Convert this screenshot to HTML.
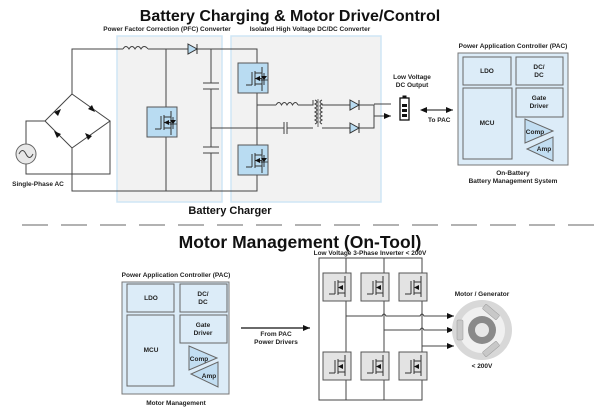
<!DOCTYPE html>
<html><head><meta charset="utf-8"><style>
html,body{margin:0;padding:0;background:#fff;}
svg{display:block;font-family:"Liberation Sans",Arial,sans-serif;}
</style></head><body>
<svg width="600" height="414" viewBox="0 0 600 414" xmlns="http://www.w3.org/2000/svg">
<defs>
<marker id="ar" markerWidth="8" markerHeight="8" refX="7" refY="4" orient="auto" markerUnits="userSpaceOnUse"><path d="M0,1 L7,4 L0,7 Z" fill="#111"/></marker>
<marker id="al" markerWidth="8" markerHeight="8" refX="1" refY="4" orient="auto" markerUnits="userSpaceOnUse"><path d="M7,1 L0,4 L7,7 Z" fill="#111"/></marker>
<g id="fet">
<rect x="0" y="0" width="30" height="30" fill="#b9dcf2" stroke="#555" stroke-width="1"/>
<path d="M8,22 H14 M14,9 V22 M17,8 V23 M17,10 H24 V25 M17,21 H24 M17,15.5 H24 M24,10 V4 M24,25 V28" stroke="#333" stroke-width="1" fill="none"/>
<path d="M17,15.5 L22,13 L22,18 Z" fill="#111"/>
<path d="M26,17 L23,13 L29,13 Z" fill="#111"/><path d="M22.5,17 H29.5 M26,10 V22" stroke="#111" stroke-width="0.8"/>
</g>
<g id="gfet">
<rect x="0" y="0" width="28" height="28" fill="#e3e3e3" stroke="#555" stroke-width="1"/>
<path d="M6,21 H12 M12,8 V21 M15,7 V22 M15,9 H22 V24 M15,20 H22 M22,9 V3" stroke="#333" stroke-width="1" fill="none"/>
<path d="M15,14.5 L20,12 L20,17 Z" fill="#111"/>
</g>
<g id="diodeR"><path d="M0,-5 L9,0 L0,5 Z" fill="#b9dcf2" stroke="#333"/><path d="M9,-5 V5" stroke="#333"/></g>
</defs>

<text x="290" y="21" text-anchor="middle" font-size="16" font-weight="bold" fill="#111">Battery Charging &amp; Motor Drive/Control</text>

<rect x="117" y="36" width="105" height="166" fill="#f2f2f2" stroke="#cfe6f5" stroke-width="1.5"/>
<rect x="231" y="36" width="150" height="166" fill="#f2f2f2" stroke="#cfe6f5" stroke-width="1.5"/>
<text x="167" y="31" text-anchor="middle" font-size="6.5" font-weight="bold" fill="#222">Power Factor Correction (PFC) Converter</text>
<text x="310" y="31" text-anchor="middle" font-size="6.5" font-weight="bold" fill="#222">Isolated High Voltage DC/DC Converter</text>

<g stroke="#444" stroke-width="1" fill="none">
<path d="M72,94 V49 H123 M148,49 H188 M197,49 H257 V191 H72 V148"/>
<path d="M123,49 q3,-5 6,0 q3,-5 6,0 q3,-5 6,0 q3,-5 7,0"/>
<path d="M166,49 V191 M211,49 V83 M211,89 V147 M211,153 V191"/>
<path d="M203,83 H219 M203,89 H219 M203,147 H219 M203,153 H219"/>
<path d="M211,128 H257"/>
<path d="M72,94 L45,121 L72,148 L110,121 Z"/>
<path d="M45,121 H26 V144 M26,164 V174 H110 V121"/>
<path d="M257,105 H276 M298,105 H313 V100 M257,128 H284 M287,128 H313"/>
<path d="M276,105 q3,-5 5.5,0 q3,-5 5.5,0 q3,-5 5.5,0 q3,-5 5.5,0"/>
<path d="M284,122 V134 M287,122 V134"/>
<path d="M315,100 q4,2 0,4 q4,2 0,4 q4,2 0,4 q4,2 0,4 q4,2 0,4 q4,2 0,4 M322,100 q-4,2 0,4 q-4,2 0,4 q-4,2 0,4 q-4,2 0,4 q-4,2 0,4 q-4,2 0,4"/>
<path d="M322,105 H350 M359,105 H374 V128 H359 M350,128 H322"/>
</g>
<path d="M318,99 V127" stroke="#444" stroke-width="0.8"/>
<circle cx="26" cy="154" r="10" fill="#e8e8e8" stroke="#666"/>
<path d="M19,154 q3.5,-7 7,0 q3.5,7 7,0" stroke="#444" fill="none"/>
<g fill="#111">
<path d="M54,112 l7,-3 l-3,7 Z"/><path d="M86,105 l7,-3 l-3,7 z" transform="rotate(90 89 108)"/>
<path d="M55,130 l7,3 l-3,-7 z" transform="rotate(180 58 132)"/><path d="M86,132 l7,3 l-3,-7 z" transform="rotate(180 89 134)"/>
</g>
<text x="38" y="186" text-anchor="middle" font-size="6.5" font-weight="bold" fill="#222">Single-Phase AC</text>
<use href="#diodeR" x="188" y="49"/>
<use href="#diodeR" x="350" y="105"/>
<use href="#diodeR" x="350" y="128"/>
<use href="#fet" x="147" y="107"/>
<use href="#fet" x="238" y="63"/>
<use href="#fet" x="238" y="145"/>
<path d="M374,104 H391 M374,116 H391" stroke="#444" fill="none" marker-end="url(#ar)"/>
<rect x="400" y="98" width="9" height="22" fill="#fff" stroke="#111" stroke-width="1.3"/>
<rect x="402.5" y="95.5" width="4" height="2.5" fill="#111"/>
<rect x="402" y="104" width="5" height="3" fill="#111"/><rect x="402" y="109" width="5" height="3" fill="#111"/><rect x="402" y="114" width="5" height="3" fill="#111"/>
<text x="412" y="79" text-anchor="middle" font-size="6.5" font-weight="bold" fill="#222">Low Voltage</text>
<text x="412" y="87" text-anchor="middle" font-size="6.5" font-weight="bold" fill="#222">DC  Output</text>
<path d="M421,110 H453" stroke="#111" marker-end="url(#ar)" marker-start="url(#al)"/>
<text x="428" y="122" font-size="6.5" font-weight="bold" fill="#222">To PAC</text>

<text x="513" y="48" text-anchor="middle" font-size="6.5" font-weight="bold" fill="#222">Power Application Controller (PAC)</text>
<rect x="458" y="53" width="110" height="112" fill="#dcecf8" stroke="#777"/>
<g fill="#dcecf8" stroke="#666">
<rect x="463" y="57" width="48" height="28"/><rect x="516" y="57" width="47" height="28"/>
<rect x="463" y="88" width="49" height="71"/><rect x="516" y="88" width="47" height="29"/>
<path d="M525,119 V143 L553,131 Z" fill="#c2def2"/><path d="M553,137 V161 L527,149 Z" fill="#c2def2"/>
</g>
<g font-size="6.5" font-weight="bold" fill="#222" text-anchor="middle">
<text x="487" y="73">LDO</text><text x="539" y="69">DC/</text><text x="539" y="77">DC</text>
<text x="487" y="125">MCU</text><text x="539" y="100">Gate</text><text x="539" y="108">Driver</text>
<text x="535" y="134">Comp</text><text x="544" y="151">Amp</text>
<text x="513" y="175">On-Battery</text><text x="513" y="183">Battery Management System</text>
</g>
<text x="230" y="214" text-anchor="middle" font-size="11" font-weight="bold" fill="#111">Battery Charger</text>

<path d="M22,225 H600" stroke="#999" stroke-width="1.6" stroke-dasharray="26,13"/>
<text x="300" y="248" text-anchor="middle" font-size="17.5" font-weight="bold" fill="#111">Motor Management (On-Tool)</text>

<text x="176" y="277" text-anchor="middle" font-size="6.5" font-weight="bold" fill="#222">Power Application Controller (PAC)</text>
<rect x="122" y="282" width="107" height="112" fill="#dcecf8" stroke="#777"/>
<g fill="#dcecf8" stroke="#666">
<rect x="127" y="284" width="47" height="28"/><rect x="180" y="284" width="47" height="28"/>
<rect x="127" y="315" width="47" height="71"/><rect x="180" y="315" width="47" height="28"/>
<path d="M189,346 V370 L217,358 Z" fill="#c2def2"/><path d="M218,362 V387 L191,374 Z" fill="#c2def2"/>
</g>
<g font-size="6.5" font-weight="bold" fill="#222" text-anchor="middle">
<text x="151" y="300">LDO</text><text x="203" y="296">DC/</text><text x="203" y="304">DC</text>
<text x="151" y="352">MCU</text><text x="203" y="327">Gate</text><text x="203" y="335">Driver</text>
<text x="199" y="361">Comp</text><text x="209" y="378">Amp</text>
<text x="176" y="405">Motor Management</text>
<text x="276" y="336">From PAC</text><text x="276" y="344">Power Drivers</text>
<text x="370" y="255">Low Voltage 3-Phase Inverter &lt; 200V</text>
<text x="482" y="296">Motor / Generator</text>
<text x="482" y="368">&lt; 200V</text>
</g>
<path d="M241,328 H310" stroke="#111" stroke-width="1.3" marker-end="url(#ar)"/>

<g stroke="#444" fill="none">
<rect x="319" y="258" width="103" height="142"/>
<path d="M346,258 V400 M384,258 V400"/>
<path d="M346,316 H382 q2,-4 4,0 H420 q2,-4 4,0 H454" marker-end="url(#ar)"/>
<path d="M384,330 H420 q2,-4 4,0 H454" marker-end="url(#ar)"/>
<path d="M422,346 H454" marker-end="url(#ar)"/>
</g>
<use href="#gfet" x="323" y="273"/><use href="#gfet" x="361" y="273"/><use href="#gfet" x="399" y="273"/>
<use href="#gfet" x="323" y="352"/><use href="#gfet" x="361" y="352"/><use href="#gfet" x="399" y="352"/>

<circle cx="482" cy="330" r="30" fill="#d8d8d8"/>
<circle cx="482" cy="330" r="23" fill="#f0f0f0"/>
<g fill="#c8c8c8" stroke="#999" stroke-width="0.5">
<rect x="457" y="320" width="6" height="20" rx="1"/>
<rect x="488" y="303" width="6" height="18" rx="1" transform="rotate(-50 491 312)"/>
<rect x="488" y="340" width="6" height="18" rx="1" transform="rotate(50 491 349)"/>
</g>
<circle cx="482" cy="330" r="14" fill="#8a8a8a"/>
<circle cx="482" cy="330" r="7" fill="#e8e8e8"/>
</svg>
</body></html>
